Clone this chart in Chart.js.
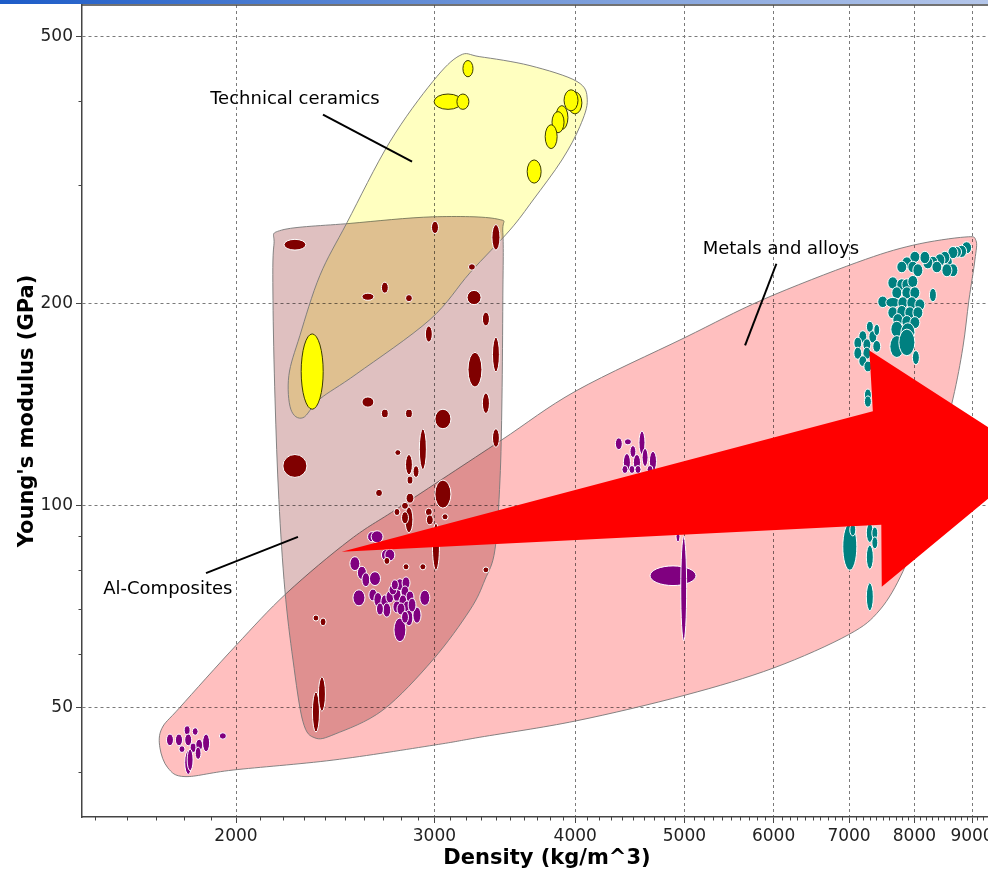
<!DOCTYPE html>
<html>
<head>
<meta charset="utf-8">
<title>Young's modulus vs density</title>
<script src="https://cdn.jsdelivr.net/npm/chart.js@4.4.1/dist/chart.umd.min.js"></script>
<style>
  html, body { margin: 0; padding: 0; background: #fff; overflow: hidden; }
  #wrap { position: relative; width: 988px; height: 880px; overflow: hidden; }
  #bar { position: absolute; left: 0; top: 0; width: 988px; height: 4px; z-index: 2;
         background: linear-gradient(to right, #1d5cc8, #6f95d8 50%, #b4c6ea); }
  #chart { position: absolute; left: 0; top: 0; }
</style>
</head>
<body>
<div id="wrap">
  <div id="bar"></div>
  <canvas id="chart" width="1030" height="880"></canvas>
</div>
<script>
// Each record: [density low, density high (kg/m^3), modulus low, modulus high (GPa)]
const alComposites = [
  [2206, 2307, 240, 249], [2982, 3025, 254, 265], [3374, 3430, 240, 262], [3216, 3262, 224, 229],
  [2587, 2651, 202, 207], [2692, 2730, 207, 215], [2828, 2868, 201, 206], [3207, 3300, 199, 209],
  [3309, 3357, 185, 194], [2945, 2987, 175, 185], [3378, 3426, 158, 178], [3213, 3306, 150, 169],
  [2587, 2651, 140, 145], [3309, 3357, 137, 147], [2692, 2730, 135, 139], [2828, 2868, 135, 139],
  [3003, 3103, 130, 139], [3378, 3426, 122, 130], [2909, 2951, 113, 130], [2201, 2312, 110, 119],
  [2767, 2801, 118.6, 121], [2828, 2868, 111, 119], [2872, 2907, 110, 114.5], [2837, 2871, 107.5, 110.5],
  [2660, 2698, 103, 105.6], [3003, 3103, 99, 109], [2831, 2877, 100.7, 104.2], [2805, 2845, 98.6, 101],
  [2825, 2871, 91, 99.4], [2762, 2796, 96.5, 98.9], [2805, 2845, 93.8, 97.8], [2945, 2987, 96.4, 99],
  [2951, 2993, 93.5, 96.7], [3047, 3085, 95.1, 97.1], [2988, 3031, 80, 94], [2706, 2739, 81.6, 83.6],
  [2814, 2848, 80.1, 81.8], [2912, 2948, 80.1, 81.8], [3313, 3353, 79.3, 80.9], [2341, 2369, 67.2, 68.6],
  [2375, 2404, 66.1, 67.9], [2338, 2372, 45.9, 52.7], [2367, 2401, 49.3, 55.5]
];
const alAlloys = [
  [2617, 2665, 88.2, 91.3], [2636, 2701, 87.9, 91.6], [2692, 2742, 82.7, 85.9], [2711, 2767, 82.6, 86],
  [2524, 2576, 79.9, 83.8], [2563, 2611, 77.5, 81.1], [2587, 2629, 75.6, 79.3], [2627, 2687, 75.9, 79.6],
  [2540, 2603, 70.8, 74.8], [2624, 2668, 72, 75], [2651, 2695, 70.6, 74.1], [2689, 2733, 70.1, 73.5],
  [2717, 2761, 71.5, 74.5], [2756, 2802, 71.8, 75.3], [2773, 2819, 74.6, 77.7], [2808, 2854, 75, 78.2],
  [2802, 2848, 72.8, 75.8], [2831, 2877, 71.5, 74.5], [2790, 2836, 70.1, 73.5], [2756, 2802, 69.1, 72],
  [2700, 2744, 68.1, 71.5], [2665, 2703, 68.6, 71.5], [2814, 2860, 69.1, 72], [2779, 2825, 68.6, 71.5],
  [2825, 2871, 66.1, 69.8], [2871, 2919, 66.7, 70.5], [2762, 2830, 62.6, 67.9], [2912, 2972, 70.9, 74.7],
  [2734, 2778, 73.5, 76.1], [2747, 2787, 74.8, 77.4], [2843, 2889, 69.3, 72.7], [2805, 2845, 66.7, 69.5]
];
const mgAlloys = [
  [1735, 1760, 43.8, 45.6], [1767, 1793, 43.8, 45.6], [1799, 1821, 45.5, 46.9], [1801, 1827, 43.8, 45.6],
  [1829, 1851, 45.4, 46.6], [1842, 1868, 43, 44.8], [1868, 1895, 42.9, 45.6], [1780, 1802, 42.8, 43.8],
  [1821, 1843, 42.8, 44.2], [1801, 1827, 39.7, 43.1], [1810, 1832, 40.2, 43.3], [1840, 1862, 41.8, 43.6],
  [1933, 1961, 44.8, 45.8]
];
const tiAndOthers = [
  [4342, 4404, 121, 126], [4423, 4487, 123, 125.6], [4474, 4528, 117.8, 122.7], [4557, 4613, 119, 129],
  [4414, 4478, 112.3, 119.4], [4505, 4571, 112.7, 119], [4655, 4723, 112.3, 120.3], [4586, 4642, 114.2, 121.5],
  [4401, 4455, 111.5, 114.6], [4465, 4519, 111.5, 114.6], [4520, 4576, 111.5, 114.6], [4633, 4689, 111.5, 114.6],
  [4661, 5120, 75.9, 81.2], [4963, 5023, 62.8, 89.8], [4915, 4955, 88.2, 91.3]
];
const steelsAndNickel = [
  [8810, 8993, 237, 247], [8720, 8901, 234, 244], [8630, 8809, 234, 243], [8567, 8744, 233, 243],
  [8488, 8645, 226, 235], [8427, 8602, 229, 239], [8342, 8515, 227, 237], [8223, 8393, 226, 235],
  [8139, 8308, 225, 234.5], [8291, 8462, 222, 231], [8567, 8744, 219, 229], [8462, 8637, 219, 229],
  [8090, 8257, 229, 239], [7926, 8090, 230, 239], [7798, 7959, 225, 234.5], [7717, 7877, 222, 231],
  [7893, 8056, 222, 231], [7975, 8140, 219, 229], [8249, 8368, 201, 210.5], [7577, 7734, 210, 219],
  [7717, 7877, 209, 217.5], [7798, 7959, 209, 217.5], [7893, 8056, 211, 220], [7639, 7797, 203, 211.6],
  [7798, 7959, 203, 211.6], [7926, 8090, 203, 211.6], [7423, 7576, 197, 205], [7546, 7765, 197, 204],
  [7734, 7893, 196, 204.5], [7877, 8039, 196, 204.5], [8008, 8173, 195, 203], [7577, 7734, 189.6, 197.6],
  [7717, 7877, 190, 198.5], [7845, 8008, 189.6, 197.6], [7975, 8140, 189.6, 197.6], [7655, 7813, 185, 193],
  [7798, 7959, 184, 191.7], [7926, 8090, 183.3, 191], [7624, 7813, 178, 188], [7782, 8008, 175, 187],
  [7609, 7829, 166, 179], [7750, 8008, 167, 183], [7967, 8082, 162, 170], [7252, 7357, 181, 188],
  [7141, 7259, 174.5, 182], [7289, 7409, 174.5, 182], [7069, 7185, 171, 178], [7201, 7319, 170, 177],
  [7363, 7453, 179, 186], [7069, 7185, 165, 172], [7201, 7319, 165, 172], [7348, 7468, 169, 176],
  [7141, 7259, 161, 167], [7216, 7335, 158, 164], [7223, 7327, 143, 149], [7223, 7327, 140, 145.5],
  [6911, 7112, 80, 94], [7011, 7097, 90, 93.8], [7252, 7356, 88, 94], [7334, 7424, 89, 92.8],
  [7334, 7424, 86.1, 89.7], [7252, 7356, 80.3, 87.2], [7252, 7356, 69.6, 76.6]
];
const technicalCeramics = [
  [3180, 3246, 435, 460], [2998, 3174, 389, 410], [3141, 3219, 389, 410], [3942, 4055, 383, 413],
  [3910, 4023, 387, 416], [3845, 3941, 363, 394], [3815, 3910, 359, 386], [3762, 3855, 340, 369],
  [3626, 3731, 302, 327], [2285, 2390, 139, 180]
];

// family envelopes, [density, modulus] going round the outline
const metalsEnvelope = [
  [1719, 46.5], [1784, 50], [2000, 61.8], [2219, 74], [2525, 88.8], [2796, 99.4], [3430, 124.6],
  [4006, 148], [5000, 177.6], [5870, 202.5], [7112, 230], [7974, 244], [8870, 251], [9072, 248],
  [9053, 232], [8943, 202], [8834, 172], [8655, 144], [8342, 113], [8090, 93.5], [7813, 79.6],
  [7454, 69.8], [6990, 64.1], [6000, 57.2], [5006, 52.1], [4006, 47.7], [3292, 45.1], [2998, 43.9],
  [2439, 41.7], [1988, 40.3], [1802, 39.4], [1740, 40.6], [1712, 43.5]
];
const compositesEnvelope = [
  [2195, 257], [2525, 263], [2990, 269], [3410, 267], [3450, 255], [3450, 202], [3444, 144],
  [3430, 109], [3395, 85.8], [3326, 77.4], [3226, 69.8], [2990, 58.8], [2700, 49.5], [2449, 45.6],
  [2350, 45], [2293, 47.6], [2247, 58.8], [2210, 74.8], [2183, 102], [2166, 144], [2157, 202], [2161, 244]
];
const ceramicsEnvelope = [
  [3160, 468], [3292, 466], [3647, 452], [4015, 428], [4100, 402], [4039, 367], [3893, 327],
  [3670, 285], [3500, 257], [3226, 222], [2972, 189], [2560, 157], [2374, 144], [2293, 135],
  [2237, 139], [2228, 156], [2279, 179], [2374, 220], [2510, 264], [2739, 348], [2990, 428]
];

// trend arrow outline, tail first
const arrowOutline = [[2482, 85.2], [7349, 138], [7297, 170], [10270, 117.4], [7484, 75.6], [7477, 93.5]];

const familyNotes = [
  { text: 'Technical ceramics', at: [2256, 402], from: [2389, 382], to: [2866, 325] },
  { text: 'Metals and alloys', at: [6090, 241], from: [6034, 229], to: [5660, 173] },
  { text: 'Al-Composites', at: [1740, 74.8], from: [1881, 79.2], to: [2270, 89.7] }
];

// axis ticks
const xTickValues = [];
for (let v = 1500; v <= 9700; v += 100) xTickValues.push(v);
const xTickLabels = [2000, 3000, 4000, 5000, 6000, 7000, 8000, 9000];
const yTickValues = [40, 50, 60, 70, 80, 90, 100, 200, 300, 400, 500];
const yTickLabels = [50, 100, 200, 500];

const families = [
  { label: 'Metals - Mg', ranges: mgAlloys, fill: '#800080', edge: '#ffffff' },
  { label: 'Metals - Al', ranges: alAlloys, fill: '#800080', edge: '#ffffff' },
  { label: 'Metals - Ti and others', ranges: tiAndOthers, fill: '#800080', edge: '#ffffff' },
  { label: 'Metals - ferrous and Ni', ranges: steelsAndNickel, fill: '#008080', edge: '#ffffff' },
  { label: 'Al-Composites', ranges: alComposites, fill: '#800000', edge: '#ffffff' },
  { label: 'Technical ceramics', ranges: technicalCeramics, fill: '#ffff00', edge: '#3b3b00' }
];

const envelopes = [
  { points: metalsEnvelope, fill: '#ffbfbf' },
  { points: compositesEnvelope, fill: '#dfc0c0' },
  { points: ceramicsEnvelope, fill: '#ffffc0' }
];

Chart.defaults.font.family = '"DejaVu Sans", sans-serif';

// smooth closed outline through the points (Catmull-Rom as cubic Beziers)
function closedCurve(ctx, pts) {
  const n = pts.length;
  ctx.moveTo(pts[0][0], pts[0][1]);
  for (let i = 0; i < n; i++) {
    const p0 = pts[(i - 1 + n) % n], p1 = pts[i], p2 = pts[(i + 1) % n], p3 = pts[(i + 2) % n];
    ctx.bezierCurveTo(
      p1[0] + (p2[0] - p0[0]) / 6, p1[1] + (p2[1] - p0[1]) / 6,
      p2[0] - (p3[0] - p1[0]) / 6, p2[1] - (p3[1] - p1[1]) / 6,
      p2[0], p2[1]);
  }
  ctx.closePath();
}

const ashbyPlugin = {
  id: 'ashby',
  beforeDraw(chart) {
    const ctx = chart.ctx;
    ctx.save();
    ctx.fillStyle = '#fff';
    ctx.fillRect(0, 0, chart.width, chart.height);
    ctx.restore();
  },
  beforeDatasetsDraw(chart) {
    const { ctx, scales: { x, y } } = chart;
    const toPx = p => [x.getPixelForValue(p[0]), y.getPixelForValue(p[1])];
    ctx.save();
    envelopes.forEach(env => {
      ctx.beginPath();
      closedCurve(ctx, env.points.map(toPx));
      ctx.globalCompositeOperation = 'multiply';
      ctx.fillStyle = env.fill;
      ctx.fill();
      ctx.globalCompositeOperation = 'source-over';
      ctx.strokeStyle = 'rgba(120,120,120,0.9)';
      ctx.lineWidth = 1;
      ctx.stroke();
    });
    chart.data.datasets.forEach(ds => {
      ds.ranges.forEach(r => {
        const x1 = x.getPixelForValue(r[0]), x2 = x.getPixelForValue(r[1]);
        const y1 = y.getPixelForValue(r[3]), y2 = y.getPixelForValue(r[2]);
        ctx.beginPath();
        ctx.ellipse((x1 + x2) / 2, (y1 + y2) / 2, (x2 - x1) / 2, (y2 - y1) / 2, 0, 0, Math.PI * 2);
        ctx.fillStyle = ds.fillColor;
        ctx.fill();
        ctx.strokeStyle = ds.edgeColor;
        ctx.lineWidth = 1;
        ctx.stroke();
      });
    });
    ctx.restore();
  },
  afterDatasetsDraw(chart) {
    const { ctx, scales: { x, y } } = chart;
    const toPx = p => [x.getPixelForValue(p[0]), y.getPixelForValue(p[1])];
    ctx.save();
    // arrow
    ctx.beginPath();
    arrowOutline.map(toPx).forEach((p, i) => i ? ctx.lineTo(p[0], p[1]) : ctx.moveTo(p[0], p[1]));
    ctx.closePath();
    ctx.fillStyle = '#ff0000';
    ctx.fill();
    // family labels with leader lines
    ctx.font = '18px "DejaVu Sans"';
    ctx.textAlign = 'center';
    ctx.textBaseline = 'middle';
    familyNotes.forEach(n => {
      const a = toPx(n.from), b = toPx(n.to), t = toPx(n.at);
      ctx.beginPath();
      ctx.moveTo(a[0], a[1]);
      ctx.lineTo(b[0], b[1]);
      ctx.strokeStyle = '#000';
      ctx.lineWidth = 2;
      ctx.stroke();
      ctx.fillStyle = '#000';
      ctx.fillText(n.text, t[0], t[1]);
    });
    ctx.restore();
  },
  afterDraw(chart) {
    const { ctx, chartArea: { left, top, right, bottom }, scales: { x, y } } = chart;
    ctx.save();
    ctx.strokeStyle = '#444';
    ctx.lineWidth = 1;
    ctx.beginPath();
    xTickValues.filter(v => !xTickLabels.includes(v)).forEach(v => {
      const px = Math.round(x.getPixelForValue(v)) + 0.5;
      ctx.moveTo(px, bottom);
      ctx.lineTo(px, bottom + 3.5);
    });
    yTickValues.filter(v => !yTickLabels.includes(v)).forEach(v => {
      const py = Math.round(y.getPixelForValue(v)) + 0.5;
      ctx.moveTo(left - 3.5, py);
      ctx.lineTo(left, py);
    });
    ctx.stroke();
    // plot frame (top and right)
    ctx.lineWidth = 1.5;
    ctx.beginPath();
    ctx.moveTo(left, top);
    ctx.lineTo(right, top);
    ctx.lineTo(right, bottom);
    ctx.stroke();
    ctx.restore();
  }
};

const gridColor = labelled => c => (c.tick && labelled.includes(c.tick.value)) ? '#7a7a7a' : 'rgba(0,0,0,0)';
const tickColor = labelled => c => (c.tick && labelled.includes(c.tick.value)) ? '#444' : 'rgba(0,0,0,0)';

new Chart(document.getElementById('chart'), {
  type: 'scatter',
  data: {
    datasets: families.map(f => ({
      label: f.label,
      ranges: f.ranges,
      fillColor: f.fill,
      edgeColor: f.edge,
      data: f.ranges.map(r => ({ x: Math.sqrt(r[0] * r[1]), y: Math.sqrt(r[2] * r[3]) })),
      pointRadius: 0,
      pointHoverRadius: 0
    }))
  },
  options: {
    responsive: false,
    animation: false,
    events: [],
    layout: { padding: { top: 5, right: 18, left: 0, bottom: 0 } },
    plugins: { legend: { display: false }, tooltip: { enabled: false } },
    scales: {
      x: {
        type: 'logarithmic',
        min: 1460,
        max: 9766,
        afterBuildTicks: s => { s.ticks = xTickValues.map(v => ({ value: v })); },
        afterFit: s => { s.height = 63; s.paddingLeft = 0; s.paddingRight = 0; },
        ticks: {
          autoSkip: false, maxRotation: 0, minRotation: 0, padding: 3,
          color: '#222', font: { size: 17 },
          callback: v => xTickLabels.includes(v) ? String(v) : ''
        },
        grid: { color: gridColor(xTickLabels), tickColor: tickColor(xTickLabels), tickLength: 6, lineWidth: 1 },
        border: { color: '#444', width: 1.5, dash: [3, 3] },
        title: { display: true, text: 'Density (kg/m^3)', color: '#000', font: { size: 21, weight: 'bold' }, padding: { top: 0, bottom: 9 } }
      },
      y: {
        type: 'logarithmic',
        min: 34.3,
        max: 556.5,
        afterBuildTicks: s => { s.ticks = yTickValues.map(v => ({ value: v })); },
        afterFit: s => { s.width = 82; s.paddingTop = 0; s.paddingBottom = 0; },
        ticks: {
          autoSkip: false, padding: 3,
          color: '#222', font: { size: 17 },
          callback: v => yTickLabels.includes(v) ? String(v) : ''
        },
        grid: { color: gridColor(yTickLabels), tickColor: tickColor(yTickLabels), tickLength: 6, lineWidth: 1 },
        border: { color: '#444', width: 1.5, dash: [3, 3] },
        title: { display: true, text: "Young's modulus (GPa)", color: '#000', font: { size: 21, weight: 'bold' }, padding: { top: 15, bottom: 0 } }
      }
    }
  },
  plugins: [ashbyPlugin]
});
</script>
</body>
</html>
